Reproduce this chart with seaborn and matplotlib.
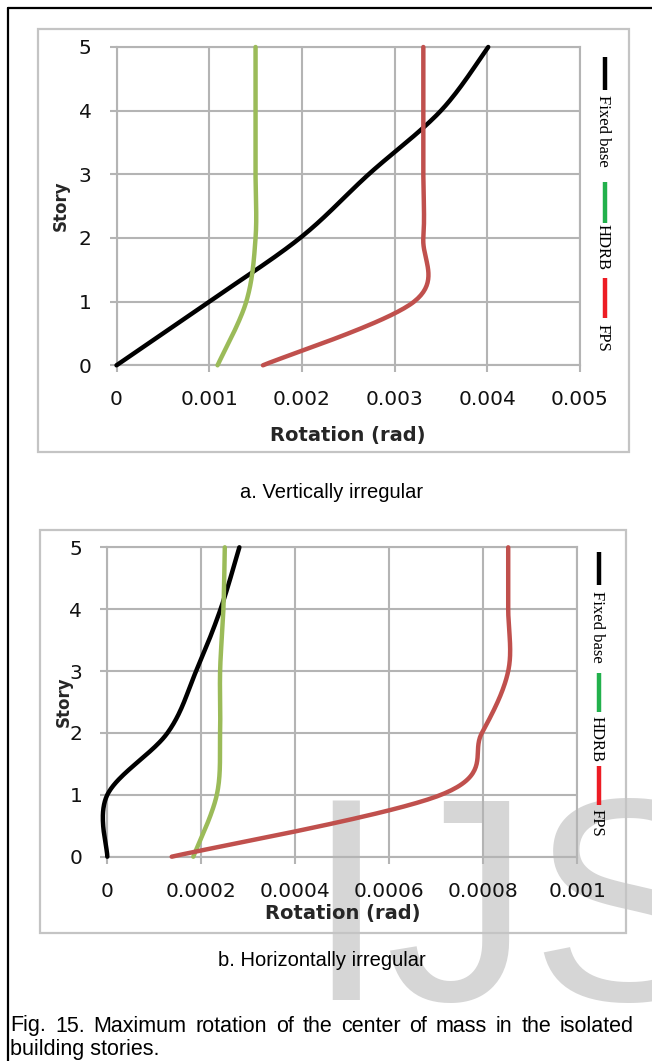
import numpy as np
import pandas as pd
import matplotlib
matplotlib.use("Agg")
import matplotlib.pyplot as plt
import seaborn as sns
from matplotlib.patches import Rectangle
from matplotlib.lines import Line2D
from matplotlib.ticker import FixedLocator, FixedFormatter

# ---------------------------------------------------------------- data
stories = [0, 1, 2, 3, 4, 5]
series_names = ["Fixed base", "HDRB", "FPS"]

# a. Vertically irregular building (rotation in rad)
vert_fixed = [0.0, 0.00100, 0.00198, 0.00272, 0.00350, 0.00401]
vert_hdrb = [0.00109, 0.00140, 0.00150, 0.00150, 0.00150, 0.00150]
vert_fps = [0.00158, 0.00321, 0.00331, 0.00331, 0.00331, 0.00331]

# b. Horizontally irregular building (rotation in rad)
horz_fixed = [0.0, 0.0, 0.000128, 0.000189, 0.000241, 0.000281]
horz_hdrb = [0.000183, 0.000233, 0.000240, 0.000240, 0.000247, 0.000250]
horz_fps = [0.000137, 0.000710, 0.000797, 0.000853, 0.000853, 0.000853]

vert_xticks = [0, 0.001, 0.002, 0.003, 0.004, 0.005]
vert_xlabels = ["0", "0.001", "0.002", "0.003", "0.004", "0.005"]
horz_xticks = [0, 0.0002, 0.0004, 0.0006, 0.0008, 0.001]
horz_xlabels = ["0", "0.0002", "0.0004", "0.0006", "0.0008", "0.001"]
story_labels = ["0", "1", "2", "3", "4", "5"]

line_colors = {"Fixed base": "#000000", "HDRB": "#9bbb59", "FPS": "#c0504d"}
legend_colors = {"Fixed base": "#000000", "HDRB": "#22b14c", "FPS": "#ed1c24"}

# ---------------------------------------------------------------- style
sns.set_theme(style="white")
plt.rcParams["font.family"] = ["DejaVu Sans"]

W, H = 652, 1061
GRID = "#b4b4b4"
fig = plt.figure(figsize=(W / 100, H / 100), dpi=100)
fig.patch.set_facecolor("white")


def fx(px):
    return px / W


def fy(py):
    return 1 - py / H


def excel_smooth(xs, ys, per_seg=40):
    """Smoothed line through the points (Catmull-Rom Bezier, as spreadsheet charts draw it)."""
    p = np.column_stack([xs, ys]).astype(float)
    ext = np.vstack([p[0], p, p[-1]])
    t = np.linspace(0, 1, per_seg, endpoint=False)[:, None]
    out = []
    for i in range(len(p) - 1):
        p0, p1 = p[i], p[i + 1]
        c1 = p0 + (ext[i + 2] - ext[i]) / 6
        c2 = p1 - (ext[i + 3] - ext[i + 1]) / 6
        out.append((1 - t) ** 3 * p0 + 3 * (1 - t) ** 2 * t * c1
                   + 3 * (1 - t) * t ** 2 * c2 + t ** 3 * p1)
    out.append(p[-1:])
    return np.vstack(out)


def build_frame(values):
    rows = []
    for name, vals in zip(series_names, values):
        curve = excel_smooth(vals, stories)
        for k, (x, y) in enumerate(curve):
            rows.append({"series": name, "rotation": x, "story": y, "k": k})
    return pd.DataFrame(rows)


def panel(rect_px, values, xticks, xlabels, xmax, xlabel_off, ylabel_x):
    left, top, right, bottom = rect_px
    ax = fig.add_axes([fx(left), fy(bottom), (right - left) / W, (bottom - top) / H])
    ax.set_facecolor("none")
    df = build_frame(values)
    sns.lineplot(data=df, x="rotation", y="story", hue="series", palette=line_colors,
                 hue_order=series_names, sort=False, estimator=None, units="series",
                 lw=3.2, legend=False, ax=ax, clip_on=False)
    ax.set_xlim(0, xmax)
    ax.set_ylim(0, 5)
    ax.xaxis.set_major_locator(FixedLocator(xticks))
    ax.xaxis.set_major_formatter(FixedFormatter(xlabels))
    ax.yaxis.set_major_locator(FixedLocator(stories))
    ax.yaxis.set_major_formatter(FixedFormatter(story_labels))
    ax.grid(True, color=GRID, lw=1.5)
    ax.set_axisbelow(True)
    for s in ax.spines.values():
        s.set_visible(True)
        s.set_color(GRID)
        s.set_linewidth(1.5)
        s.set_zorder(0.5)
    ax.tick_params(axis="both", which="major", length=5, width=1.5, color=GRID,
                   direction="out", labelsize=14.5, labelcolor="#111111",
                   bottom=True, left=True)
    ax.tick_params(axis="y", pad=13)
    ax.tick_params(axis="x", pad=13)
    ax.set_xlabel("Rotation (rad)", fontsize=14, fontweight="bold", va="center")
    ax.set_ylabel("Story", fontsize=12, fontweight="bold", va="center")
    h = bottom - top
    w = right - left
    ax.xaxis.set_label_coords(0.5, -xlabel_off / h)
    ax.yaxis.set_label_coords((ylabel_x - left) / w, 0.5)
    return ax


def box(x0, y0, x1, y1):
    fig.add_artist(Rectangle((fx(x0), fy(y1)), (x1 - x0) / W, (y1 - y0) / H,
                             transform=fig.transFigure, facecolor="none",
                             edgecolor="#c4c4c4", lw=1.6, zorder=1))


def vertical_legend(x, items):
    for name, (s0, s1), (t0, t1) in items:
        fig.add_artist(Line2D([fx(x), fx(x)], [fy(s0), fy(s1)], transform=fig.transFigure,
                              color=legend_colors[name], lw=3.2, solid_capstyle="butt"))
        fig.text(fx(x - 2), fy((t0 + t1) / 2), name, rotation=-90, ha="center", va="center",
                 family="Liberation Serif", fontsize=12, color="black")


# watermark behind the charts
fig.text(fx(305), fy(1000), "IJS", fontsize=209, family="Liberation Sans",
         color="#d6d6d6", ha="left", va="baseline", zorder=-5)

# page frame
fig.add_artist(Line2D([fx(7.5), fx(7.5)], [fy(8), fy(1061)], transform=fig.transFigure,
                      color="black", lw=1.6))
fig.add_artist(Line2D([fx(7.5), fx(652)], [fy(8), fy(8)], transform=fig.transFigure,
                      color="black", lw=1.6))

# a. Vertically irregular
box(38, 29, 629, 452)
panel((116.5, 47, 580, 365.3), [vert_fixed, vert_hdrb, vert_fps],
      vert_xticks, vert_xlabels, 0.005, 70, 60.5)
vertical_legend(605, [("Fixed base", (57, 90), (92, 170)),
                      ("HDRB", (182, 223), (227, 267)),
                      ("FPS", (278, 318), (323, 352))])
fig.text(fx(332), fy(492), "a. Vertically irregular", ha="center", va="center",
         family="Liberation Sans", fontsize=14.5, color="black")

# b. Horizontally irregular
box(40, 530, 626, 933)
panel((107.3, 547.3, 577.3, 856.7), [horz_fixed, horz_hdrb, horz_fps],
      horz_xticks, horz_xlabels, 0.001, 57, 64)
vertical_legend(599, [("Fixed base", (552, 585), (590, 663)),
                      ("HDRB", (673, 712), (717, 760)),
                      ("FPS", (766, 805), (808, 837))])
fig.text(fx(322), fy(961), "b. Horizontally irregular", ha="center", va="center",
         family="Liberation Sans", fontsize=14.5, color="black")

# figure caption, first line justified
cap1 = "Fig. 15. Maximum rotation of the center of mass in the isolated"
cap2 = "building stories."
words = cap1.split()
wt = [fig.text(0, fy(1026), w, family="Liberation Sans", fontsize=15.5,
               ha="left", va="center", color="black") for w in words]
renderer = fig.canvas.get_renderer()
widths = [t.get_window_extent(renderer).width for t in wt]
x0, x1 = 10.5, 634.0
gap = max((x1 - x0 - sum(widths)) / (len(words) - 1), 3.0)
xc = x0
for t, wd in zip(wt, widths):
    t.set_x(fx(xc))
    xc += wd + gap
fig.text(fx(10.5), fy(1049), cap2, family="Liberation Sans", fontsize=15.5,
         ha="left", va="center", color="black")

fig.savefig("out.png", dpi=100, facecolor="white")
